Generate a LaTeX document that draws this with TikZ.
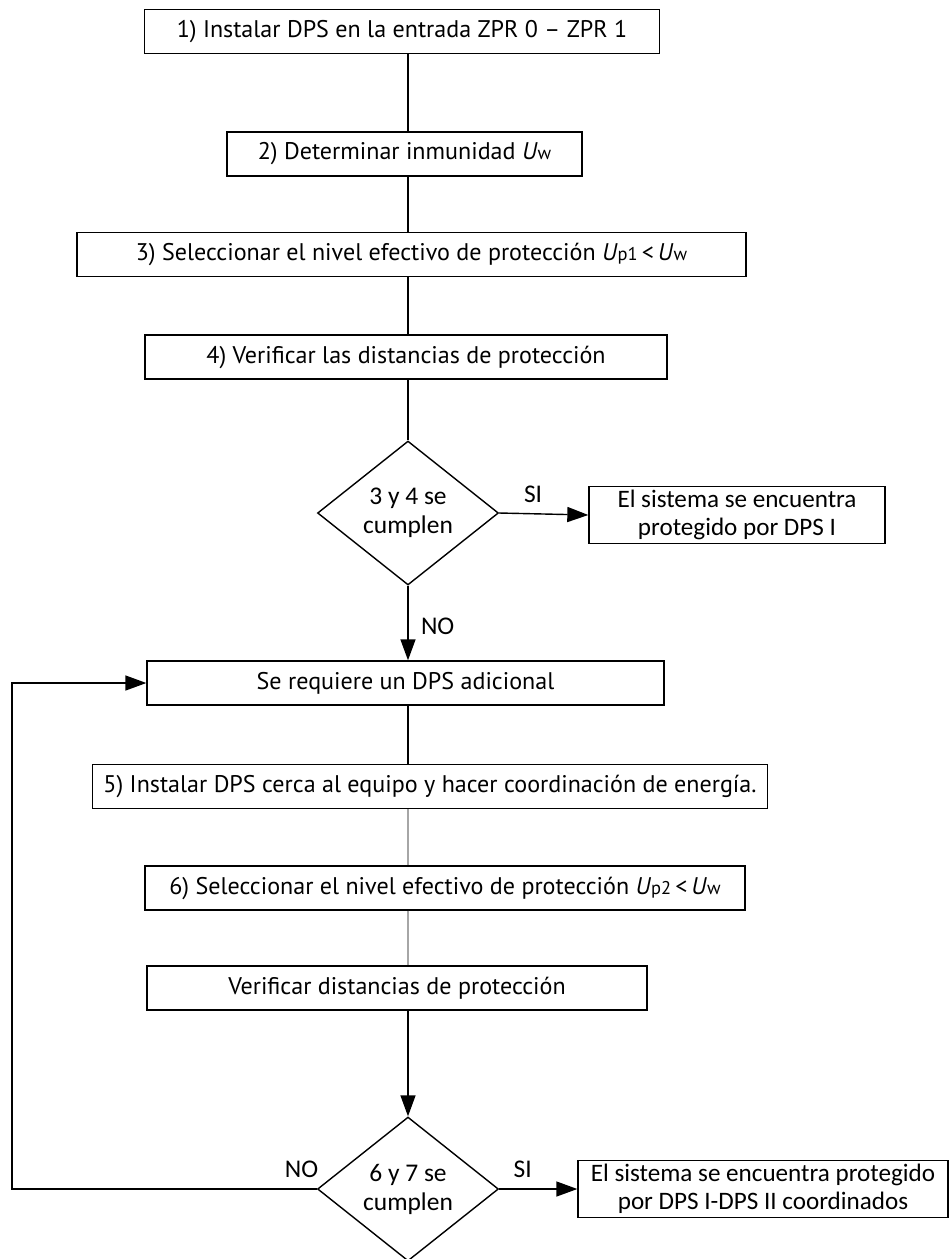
\documentclass[tikz,border=0pt]{standalone}
\usepackage{fontspec}
\setmainfont{PT Sans}
\newfontfamily\calibrifont{Carlito}
\usetikzlibrary{arrows.meta,shapes.geometric}
\newcommand{\low}[1]{{\fontsize{10.5}{10.5}\selectfont #1}}

\begin{document}
\begin{tikzpicture}[
  x=0.02cm, y=-0.02cm, >=Triangle,
  stepbox/.style={draw=black, line width=0.8pt, minimum height=0.88cm, inner sep=2pt, font=\fontsize{13.7}{15}\selectfont},
  endbox/.style={draw=black, line width=0.8pt, minimum height=1.1cm, align=center, inner sep=2pt, font=\calibrifont\fontsize{14.3}{16}\selectfont},
  check/.style={diamond, draw=black, line width=0.8pt, minimum width=3.62cm, minimum height=2.88cm, inner sep=0pt, align=center, font=\calibrifont\fontsize{14.5}{16.5}\selectfont},
  link/.style={draw=black, line width=0.8pt},
  faint/.style={draw=gray!70, line width=0.6pt},
  arr/.style={link, -{Triangle[length=0.42cm, width=0.3cm]}},
  lbl/.style={font=\calibrifont\fontsize{14.5}{16}\selectfont, inner sep=1pt}
]
  \useasboundingbox (0,0) rectangle (949,1259);

  % Steps 1 to 4
  \node[stepbox, minimum width=10.3cm] (step1) at (402,31.5) {1) Instalar DPS en la entrada ZPR 0 -- ZPR 1};
  \node[stepbox, minimum width=7.1cm] (step2) at (404.5,154) {2) Determinar inmunidad \textit{U}\low{w}};
  \node[stepbox, minimum width=13.38cm] (step3) at (411.5,254.5) {3) Seleccionar el nivel efectivo de protección \textit{U}\low{p1}\,<\,\textit{U}\low{w}};
  \node[stepbox, minimum width=10.44cm] (step4) at (406,357) {4) Verificar las distancias de protección};

  % First decision
  \node[check] (check1) at (408,513) {3 y 4 se\\cumplen};
  \node[endbox, minimum width=5.92cm] (done1) at (737,515) {El sistema se encuentra\\protegido por DPS I};

  % Additional protection
  \node[stepbox, minimum width=10.34cm] (extra) at (405.5,683) {Se requiere un DPS adicional};
  \node[stepbox, minimum width=13.5cm] (step5) at (430,786.5) {5) Instalar DPS cerca al equipo y hacer coordinación de energía.};
  \node[stepbox, minimum width=12cm] (step6) at (445,888) {6) Seleccionar el nivel efectivo de protección \textit{U}\low{p2}\,<\,\textit{U}\low{w}};
  \node[stepbox, minimum width=10cm] (step7) at (397,988) {Verificar distancias de protección};

  % Second decision
  \node[check] (check2) at (408,1189) {6 y 7 se\\cumplen};
  \node[endbox, minimum width=7.4cm] (done2) at (763,1189) {El sistema se encuentra protegido\\por DPS I-DPS II coordinados};
  \coordinate (loop) at (12,683);

  % Connectors
  \draw[link] (step1.south -| check1.north) -- (step2.north -| check1.north);
  \draw[link] (step2.south -| check1.north) -- (step3.north -| check1.north);
  \draw[link] (step3.south -| check1.north) -- (step4.north -| check1.north);
  \draw[link] (step4.south -| check1.north) -- (check1.north);
  \draw[arr] (check1.east) -- node[lbl, above=5pt, pos=0.38] {SI} (done1.west);
  \draw[arr] (check1.south) -- node[lbl, right=6pt, pos=0.55] {NO} (extra.north -| check1.south);
  \draw[link] (extra.south -| check1.north) -- (step5.north -| check1.north);
  \draw[faint] (step5.south -| check1.north) -- (step6.north -| check1.north);
  \draw[faint] (step6.south -| check1.north) -- (step7.north -| check1.north);
  \draw[arr] (step7.south -| check2.north) -- (check2.north);
  \draw[arr] (check2.east) -- node[lbl, above=5pt, pos=0.3] {SI} (done2.west);
  \draw[arr] (check2.west) -- node[lbl, above=5pt, pos=0.05] {NO} (check2.west -| loop) -- (loop) -- (extra.west);

\end{tikzpicture}
\end{document}
